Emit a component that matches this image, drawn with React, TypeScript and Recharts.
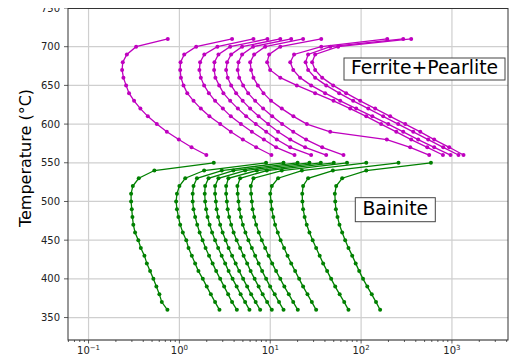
import React from "react"
import { LineChart, Line, XAxis, YAxis, CartesianGrid } from "recharts"

// temperatures (°C) shared by each family of curves
const pearliteTemps = [710, 700, 690, 680, 670, 660, 650, 640, 630, 620, 610, 600, 590, 580, 570, 560]
const bainiteTemps = [550, 540, 530, 520, 510, 500, 490, 480, 470, 460, 450, 440, 430, 420, 410, 400, 390, 380, 370, 360]

// times (s) for ferrite+pearlite curves, one value per temperature above
const fp1 = [0.745, 0.334, 0.264, 0.238, 0.234, 0.242, 0.259, 0.279, 0.317, 0.372, 0.449, 0.564, 0.727, 0.985, 1.36, 1.98]
const fp2 = [3.8, 1.53, 1.13, 1.03, 1.02, 1.04, 1.11, 1.22, 1.43, 1.72, 2.14, 2.81, 3.68, 4.99, 7.0, 10.3]
const fp3 = [6.53, 2.62, 1.88, 1.69, 1.66, 1.72, 1.87, 2.11, 2.47, 3.01, 3.68, 4.75, 6.27, 8.5, 11.6, 18.5]
const fp4 = [9.31, 3.62, 2.69, 2.43, 2.41, 2.49, 2.74, 3.05, 3.62, 4.4, 5.43, 6.94, 9.02, 11.8, 16.6, 28.2]
const fp5 = [12.9, 4.9, 3.71, 3.35, 3.27, 3.4, 3.71, 4.21, 4.97, 6.01, 7.45, 9.48, 12.2, 16.6, 24.2, 41.3]
const fp6 = [17, 6.48, 4.9, 4.47, 4.38, 4.55, 5.03, 5.71, 6.82, 8.35, 10.5, 13.5, 17.9, 24.8, 37.3, 64]
const fp7 = [23, 8.79, 6.65, 6.01, 6.16, 6.53, 7.3, 8.42, 10.2, 13.4, 18, 25.3, 45.7, 192, 347, 562]
const fp8 = [36.4, 12.9, 9.72, 9.24, 9.97, 12.9, 19.6, 31.2, 49.7, 75.9, 114, 166, 244, 356, 535, 796]
const fp9 = [194, 36.4, 18.3, 16.6, 17.9, 21.3, 28.2, 40.2, 58.9, 88.3, 133, 199, 291, 425, 638, 965]
const fp10 = [291, 45.7, 26.1, 24.5, 26.1, 31.2, 41.3, 57.4, 81.8, 120, 175, 256, 375, 548, 802, 1180]
const fp11 = [356, 55.9, 31.2, 28.9, 31.2, 37.3, 49.3, 68.5, 97.7, 143, 209, 306, 448, 638, 934, 1340]

// times (s) for bainite curves
const b1 = [2.39, 0.53, 0.357, 0.307, 0.294, 0.294, 0.299, 0.304, 0.311, 0.325, 0.353, 0.376, 0.412, 0.438, 0.476, 0.517, 0.558, 0.602, 0.64, 0.738]
const b2 = [9.0, 1.87, 1.16, 1.0, 0.94, 0.92, 0.94, 0.975, 1.02, 1.09, 1.19, 1.26, 1.37, 1.49, 1.62, 1.81, 2.0, 2.22, 2.47, 2.76]
const b3 = [14, 2.93, 1.56, 1.43, 1.4, 1.4, 1.43, 1.49, 1.57, 1.67, 1.8, 1.94, 2.12, 2.32, 2.54, 2.81, 3.11, 3.44, 3.8, 4.29]
const b4 = [20, 3.93, 2.09, 1.92, 1.9, 1.92, 1.97, 2.04, 2.15, 2.29, 2.47, 2.67, 2.92, 3.19, 3.48, 3.85, 4.27, 4.72, 5.29, 5.9]
const b5 = [27, 5.29, 2.69, 2.47, 2.47, 2.52, 2.57, 2.67, 2.81, 2.99, 3.23, 3.48, 3.8, 4.16, 4.55, 5.03, 5.57, 6.16, 6.91, 7.74]
const b6 = [36, 7.12, 3.46, 3.27, 3.27, 3.33, 3.4, 3.53, 3.71, 3.95, 4.27, 4.66, 5.09, 5.57, 6.08, 6.73, 7.45, 8.25, 9.24, 10.4]
const b7 = [50, 9.17, 4.66, 4.35, 4.38, 4.47, 4.57, 4.75, 4.99, 5.33, 5.75, 6.27, 6.82, 7.45, 8.14, 9.01, 9.97, 11.2, 12.5, 14]
const b8 = [70, 13.4, 6.53, 6.11, 6.16, 6.27, 6.4, 6.65, 6.99, 7.49, 8.08, 8.79, 9.6, 10.5, 11.6, 12.9, 14.3, 16, 17.9, 20.1]
const b9 = [114, 22.3, 12.2, 10.4, 10, 10.2, 10.4, 10.8, 11.3, 12.1, 13, 14.2, 15.5, 17, 18.8, 20.8, 23, 25.7, 28.7, 32]
const b10 = [258, 48.9, 26.1, 23, 22.5, 22.6, 23, 23.9, 25.2, 27, 29.3, 32, 35, 38.2, 42.3, 46.8, 51.9, 58.1, 65.2, 72.6]
const b11 = [587, 114, 61.9, 53.2, 51.4, 51.9, 52.8, 55, 57.8, 61.9, 66.8, 72.6, 79.8, 87.2, 95.3, 105, 117, 131, 146, 162]

const pearliteCurves = [fp1, fp2, fp3, fp4, fp5, fp6, fp7, fp8, fp9, fp10, fp11]
const bainiteCurves = [b1, b2, b3, b4, b5, b6, b7, b8, b9, b10, b11]

const tempTicks = [350, 400, 450, 500, 550, 600, 650, 700, 750]
const decades = [0.1, 1, 10, 100, 1000]
const minorSteps = [2, 3, 4, 5, 6, 7, 8, 9]
const supLabels = ["−1", "0", "1", "2", "3"]

const MAGENTA = "#bf00bf"
const GREEN = "#008000"
const FONT = "DejaVu Sans"

const xDomain = [0.0594, 4140]
const timeTicks = [
  ...decades,
  ...[0.01, ...decades].flatMap((d) => minorSteps.map((m) => +(m * d).toPrecision(3))),
]
  .filter((v) => v >= xDomain[0] && v <= xDomain[1])
  .sort((a, b) => a - b)

const toPoints = (times: number[], temps: number[]) => times.map((t, i) => ({ t, T: temps[i] }))

function TimeTick(props: any) {
  const { x, y, payload } = props
  const idx = decades.indexOf(payload.value)
  const major = idx >= 0
  return (
    <g>
      <line x1={x} x2={x} y1={y} y2={y + (major ? 3.5 : 2)} stroke="#333" strokeWidth={0.8} />
      {major && (
        <text x={x} y={y + 14} textAnchor="middle" fontSize={10} fill="#222" fontFamily={FONT}>
          10
          <tspan dy={-4} fontSize={7}>{supLabels[idx]}</tspan>
        </text>
      )}
    </g>
  )
}

export default function App() {
  // the chart is pulled up over the body margin so the top tick label has room
  return (
    <div style={{ position: "relative", width: 502, height: 363, marginTop: -8, fontFamily: FONT }}>
      <LineChart width={502} height={363} margin={{ top: 8, right: 2, bottom: 0, left: 0 }}>
        <CartesianGrid stroke="#cfcfcf" strokeWidth={1.2} verticalValues={decades} />
        <XAxis
          dataKey="t"
          type="number"
          scale="log"
          domain={xDomain}
          allowDataOverflow
          ticks={timeTicks}
          interval={0}
          tick={<TimeTick />}
          tickLine={false}
          axisLine={false}
          tickSize={0}
          tickMargin={0}
          height={23}
        />
        <YAxis
          dataKey="T"
          type="number"
          domain={[321, 750]}
          allowDataOverflow
          ticks={tempTicks}
          interval={0}
          width={60}
          tickSize={4}
          tickMargin={4}
          axisLine={false}
          tickLine={{ stroke: "#333", strokeWidth: 0.8 }}
          tick={{ fontSize: 10, fill: "#222" }}
        />
        {pearliteCurves.map((times, i) => (
          <Line
            key={"fp" + i}
            data={toPoints(times, pearliteTemps)}
            dataKey="T"
            stroke={MAGENTA}
            strokeWidth={1.3}
            dot={{ r: 2, fill: MAGENTA, stroke: "none" }}
            isAnimationActive={false}
          />
        ))}
        {bainiteCurves.map((times, i) => (
          <Line
            key={"b" + i}
            data={toPoints(times, bainiteTemps)}
            dataKey="T"
            stroke={GREEN}
            strokeWidth={1.3}
            dot={{ r: 2, fill: GREEN, stroke: "none" }}
            isAnimationActive={false}
          />
        ))}
      </LineChart>
      <svg width={502} height={363} style={{ position: "absolute", left: 0, top: 0, pointerEvents: "none" }}>
        <rect x={60} y={8.5} width={440} height={331.5} fill="none" stroke="#333" strokeWidth={1} />
        <text
          x={17}
          y={158}
          transform="rotate(-90 17 158)"
          textAnchor="middle"
          dominantBaseline="central"
          fontSize={16}
          fill="#000"
        >
          Temperature (°C)
        </text>
        <rect x={336} y={58} width={161} height={22} fill="#fff" stroke="#444" strokeWidth={1} />
        <text x={416.5} y={74.3} textAnchor="middle" fontSize={18.8} fill="#000">
          Ferrite+Pearlite
        </text>
        <rect x={347.3} y={197.7} width={80} height={24} fill="#fff" stroke="#444" strokeWidth={1} />
        <text x={387.3} y={215} textAnchor="middle" fontSize={18.8} fill="#000">
          Bainite
        </text>
      </svg>
    </div>
  )
}
